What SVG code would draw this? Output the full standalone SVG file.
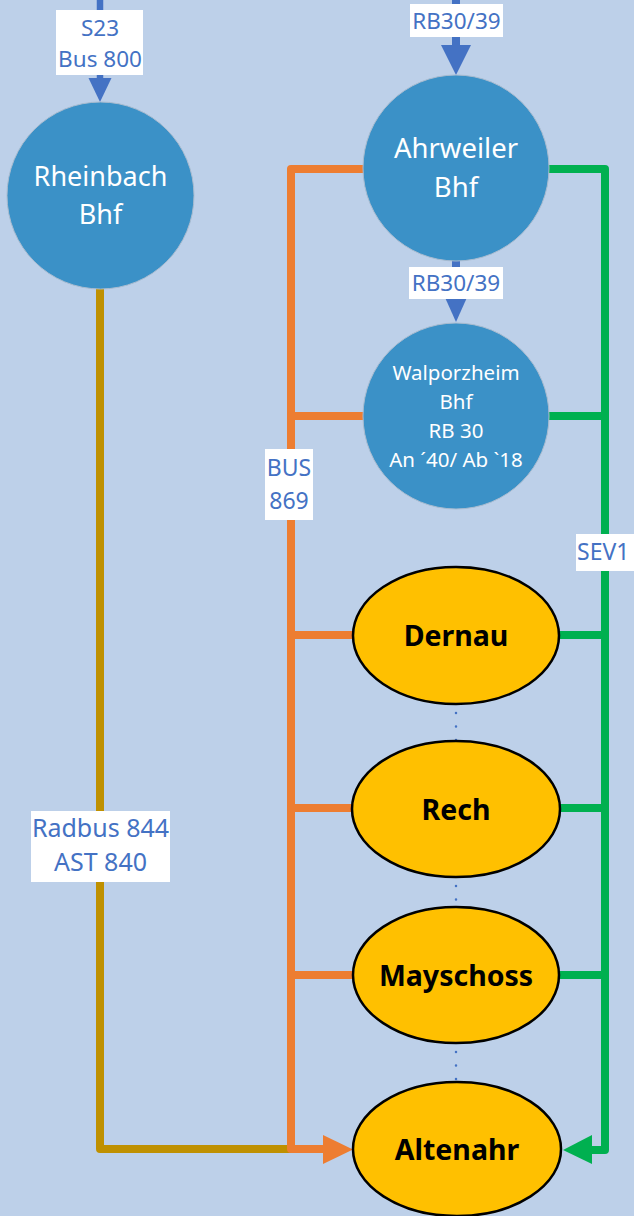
<svg xmlns="http://www.w3.org/2000/svg" width="634" height="1216" viewBox="0 0 634 1216">
<style>
.bg{fill:#BDD0E9}
.st{fill:#3B91C7;stroke:#A9BCD0;stroke-width:1}
.ell{fill:#FFC000;stroke:#000;stroke-width:2.5}
.wt{fill:#fff;font-family:"Noto Sans","Open Sans",sans-serif;text-anchor:middle}
.bt{fill:#000;font-family:"Noto Sans","Open Sans",sans-serif;font-weight:bold;font-size:28.5px;text-anchor:middle}
.lb{fill:#fff}
.lt{fill:#4472C4;font-family:"Noto Sans","Open Sans",sans-serif;font-size:22.5px;text-anchor:middle}
.ln{fill:none;stroke-width:8;stroke-linecap:round;stroke-linejoin:round}
.or{stroke:#ED7D31}
.gr{stroke:#00B050}
.go{stroke:#BF9000}
.bl{stroke:#4472C4}
.dot{fill:none;stroke:#4472C4;stroke-width:2.5;stroke-linecap:round;stroke-dasharray:0 13.5}
</style>
<rect class="bg" x="0" y="0" width="634" height="1216"/>
<g id="connectors">
  <line class="dot" x1="456" y1="632" x2="456" y2="809"/>
  <line class="dot" x1="456" y1="805" x2="456" y2="975"/>
  <line class="dot" x1="456" y1="971" x2="456" y2="1149"/>
  <line class="ln bl" x1="100" y1="-5" x2="100" y2="80" style="stroke-width:6.5;stroke-linecap:butt"/>
  <polygon points="88.5,78 111.5,78 100,102" fill="#4472C4"/>
  <line class="ln bl" x1="456" y1="-5" x2="456" y2="46" style="stroke-linecap:butt"/>
  <polygon points="441,45 471,45 456,75" fill="#4472C4"/>
  <line class="ln bl" x1="456" y1="261" x2="456" y2="294"/>
  <polygon points="443,293 469,293 456,322" fill="#4472C4"/>
  <polyline class="ln go" points="100,289 100,1149 291,1149"/>
  <polyline class="ln or" points="363,169 291,169 291,1149 324,1149"/>
  <line class="ln or" x1="291" y1="416" x2="363" y2="416"/>
  <line class="ln or" x1="291" y1="635" x2="353" y2="635"/>
  <line class="ln or" x1="291" y1="808" x2="352" y2="808"/>
  <line class="ln or" x1="291" y1="975" x2="353" y2="975"/>
  <polygon points="323,1135 323,1164 353,1149.5" fill="#ED7D31"/>
  <polyline class="ln gr" points="549,169 605,169 605,1150 591,1150"/>
  <line class="ln gr" x1="549" y1="416" x2="605" y2="416"/>
  <line class="ln gr" x1="559" y1="635" x2="605" y2="635"/>
  <line class="ln gr" x1="559" y1="808" x2="605" y2="808"/>
  <line class="ln gr" x1="559" y1="975" x2="605" y2="975"/>
  <polygon points="592,1135 592,1164 563,1150" fill="#00B050"/>
  <g id="label-s23">
    <rect class="lb" x="56" y="10" width="87" height="65"/>
    <text class="lt" x="100" y="36">S23</text>
    <text class="lt" x="100" y="67">Bus 800</text>
  </g>
  <g id="label-rb-top">
    <rect class="lb" x="410" y="4" width="93" height="33"/>
    <text class="lt" x="456.5" y="29">RB30/39</text>
  </g>
  <g id="label-rb-mid">
    <rect class="lb" x="409" y="267" width="94" height="32"/>
    <text class="lt" x="456" y="291">RB30/39</text>
  </g>
  <g id="label-bus869">
    <rect class="lb" x="265" y="449" width="48" height="71"/>
    <text class="lt" x="289" y="476" style="font-size:23px">BUS</text>
    <text class="lt" x="289" y="509" style="font-size:23px">869</text>
  </g>
  <g id="label-sev">
    <rect class="lb" x="576" y="534" width="60" height="37"/>
    <text class="lt" x="577" y="560" style="font-size:23px;text-anchor:start">SEV1</text>
  </g>
  <g id="label-radbus">
    <rect class="lb" x="31" y="811" width="139" height="71"/>
    <text class="lt" x="100.5" y="837" style="font-size:25px">Radbus 844</text>
    <text class="lt" x="100.5" y="871" style="font-size:25px">AST 840</text>
  </g>
</g>
<g id="rheinbach">
  <circle class="st" cx="100.5" cy="195.5" r="93.5"/>
  <text class="wt" x="100.5" y="186" style="font-size:27px">Rheinbach</text>
  <text class="wt" x="100.5" y="224" style="font-size:27px">Bhf</text>
</g>
<g id="ahrweiler">
  <circle class="st" cx="456" cy="168" r="93"/>
  <text class="wt" x="456" y="158" style="font-size:27.5px">Ahrweiler</text>
  <text class="wt" x="456" y="197" style="font-size:27.5px">Bhf</text>
</g>
<g id="walporzheim">
  <circle class="st" cx="456" cy="416" r="93"/>
  <text class="wt" x="456" y="380" style="font-size:20.5px">Walporzheim</text>
  <text class="wt" x="456" y="409" style="font-size:20.5px">Bhf</text>
  <text class="wt" x="456" y="438" style="font-size:20.5px">RB 30</text>
  <text class="wt" x="456" y="467" style="font-size:20.5px">An ´40/ Ab `18</text>
</g>
<g id="dernau">
  <ellipse class="ell" cx="456" cy="635.5" rx="103" ry="68.5"/>
  <text class="bt" x="456" y="646">Dernau</text>
</g>
<g id="rech">
  <ellipse class="ell" cx="456" cy="809" rx="104" ry="68"/>
  <text class="bt" x="456" y="820">Rech</text>
</g>
<g id="mayschoss">
  <ellipse class="ell" cx="456" cy="975" rx="103" ry="68"/>
  <text class="bt" x="456" y="986">Mayschoss</text>
</g>
<g id="altenahr">
  <ellipse class="ell" cx="457" cy="1149" rx="104" ry="67"/>
  <text class="bt" x="457" y="1160">Altenahr</text>
</g>
</svg>
